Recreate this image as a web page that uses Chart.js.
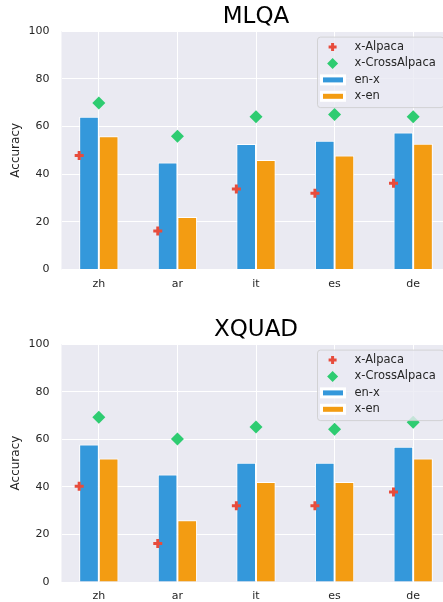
<!DOCTYPE html>
<html>
<head>
<meta charset="utf-8">
<title>MLQA / XQUAD</title>
<script src="https://cdn.jsdelivr.net/npm/chart.js@4.4.1/dist/chart.umd.min.js"></script>
<style>
    html, body { margin: 0; padding: 0; background: #fff; overflow: hidden; width: 443px; height: 602px; }
    canvas { position: absolute; left: 0; }
    #mlqa-chart { top: 0; }
    #xquad-chart { top: 300px; }
</style>
</head>
<body>
<!-- canvases are a bit wider than the window: the plot runs off the right edge like the original -->
<canvas id="mlqa-chart" width="458" height="300"></canvas>
<canvas id="xquad-chart" width="458" height="302"></canvas>
<script>
// Data
const languages = ["zh", "ar", "it", "es", "de"];
const yTicks = [0, 20, 40, 60, 80, 100];

const mlqaEnX = [64.1, 44.9, 52.6, 54.0, 57.5];
const mlqaXEn = [55.9, 22.0, 45.9, 47.8, 52.7];
const mlqaXAlpaca = [47.8, 16.2, 33.8, 32.0, 36.2];
const mlqaXCrossAlpaca = [69.8, 55.9, 64.1, 65.0, 64.1];

const xquadEnX = [57.8, 45.2, 50.1, 50.1, 56.9];
const xquadXEn = [51.9, 26.0, 42.0, 42.0, 51.9];
const xquadXAlpaca = [40.3, 16.2, 32.0, 32.0, 37.8];
const xquadXCrossAlpaca = [69.2, 60.1, 65.2, 64.2, 67.1];

// Styles
const FONT = "'DejaVu Sans', 'Liberation Sans', sans-serif";
const TEXT_COLOR = "#262626";
const BLUE = "#3498db";
const ORANGE = "#f39c12";
const RED = "#e74c3c";
const GREEN = "#2ecc71";

// seaborn-like grey plot background
const plotBackground = {
    id: "plotBackground",
    beforeDraw(chart) {
        const { ctx, chartArea } = chart;
        ctx.save();
        ctx.fillStyle = "#eaeaf2";
        ctx.fillRect(chartArea.left, chartArea.top, chartArea.right - chartArea.left, chartArea.bottom - chartArea.top);
        ctx.restore();
    },
};

function drawPlus(ctx, x, y, r, color) {
    ctx.strokeStyle = color;
    ctx.lineWidth = 3;
    ctx.beginPath();
    ctx.moveTo(x - r, y);
    ctx.lineTo(x + r, y);
    ctx.moveTo(x, y - r);
    ctx.lineTo(x, y + r);
    ctx.stroke();
}

function drawDiamond(ctx, x, y, r, color) {
    ctx.fillStyle = color;
    ctx.beginPath();
    ctx.moveTo(x - r, y);
    ctx.lineTo(x, y - r);
    ctx.lineTo(x + r, y);
    ctx.lineTo(x, y + r);
    ctx.closePath();
    ctx.fill();
}

// matplotlib style legend box in the upper right of the plot
const boxLegend = {
    id: "boxLegend",
    afterDraw(chart) {
        const { ctx, chartArea } = chart;
        const width = 126.5, height = 70.5;
        const left = chartArea.right - 7 - width;
        const top = chartArea.top + 5.5;
        ctx.save();
        ctx.beginPath();
        ctx.roundRect(left + 0.5, top + 0.5, width, height, 3);
        ctx.fillStyle = "rgba(234, 234, 242, 0.8)";
        ctx.fill();
        ctx.strokeStyle = "rgba(204, 204, 204, 0.8)";
        ctx.lineWidth = 1;
        ctx.stroke();

        ctx.font = "11.5px " + FONT;
        ctx.fillStyle = TEXT_COLOR;
        ctx.textBaseline = "middle";
        chart.data.datasets.forEach((ds, i) => {
            const y = top + 10.5 + i * 16.4;
            const mx = left + 15.6;
            if (ds.pointStyle === "cross") {
                drawPlus(ctx, mx, y, 4, ds.borderColor);
            } else if (ds.pointStyle === "rectRot") {
                drawDiamond(ctx, mx, y, 5.5, ds.backgroundColor);
            } else {
                ctx.fillStyle = ds.backgroundColor;
                ctx.fillRect(left + 4.5, y - 4, 23, 8);
                ctx.strokeStyle = "#fff";
                ctx.strokeRect(left + 4.5, y - 4, 23, 8);
            }
            ctx.fillStyle = TEXT_COLOR;
            ctx.fillText(ds.label, left + 37.5, y);
        });
        ctx.restore();
    },
};

function makeChart(canvasId, title, enX, xEn, xAlpaca, xCross, topPad, xAxisHeight) {
    const ctx = document.getElementById(canvasId).getContext("2d");
    return new Chart(ctx, {
        type: "bar",
        data: {
            datasets: [
                {
                    type: "scatter",
                    label: "x-Alpaca",
                    data: xAlpaca.map((v, i) => ({ x: i - 0.25, y: v })),
                    pointStyle: "cross",
                    pointRadius: 4.5,
                    borderColor: RED,
                    backgroundColor: RED,
                    borderWidth: 3,
                    order: 0,
                },
                {
                    type: "scatter",
                    label: "x-CrossAlpaca",
                    data: xCross.map((v, i) => ({ x: i, y: v })),
                    pointStyle: "rectRot",
                    pointRadius: 6.5,
                    backgroundColor: GREEN,
                    borderColor: GREEN,
                    borderWidth: 0,
                    order: 0,
                },
                {
                    label: "en-x",
                    data: enX.map((v, i) => ({ x: i, y: v })),
                    backgroundColor: BLUE,
                    borderColor: "#fff",
                    borderWidth: 1,
                    categoryPercentage: 0.5,
                    barPercentage: 1,
                    order: 1,
                },
                {
                    label: "x-en",
                    data: xEn.map((v, i) => ({ x: i, y: v })),
                    backgroundColor: ORANGE,
                    borderColor: "#fff",
                    borderWidth: 1,
                    categoryPercentage: 0.5,
                    barPercentage: 1,
                    order: 1,
                },
            ],
        },
        options: {
            responsive: false,
            animation: false,
            layout: { padding: { left: 5, right: 0, top: topPad, bottom: 0 } },
            plugins: {
                legend: { display: false },
                tooltip: { enabled: false },
                title: {
                    display: true,
                    text: title,
                    fullSize: false,
                    color: "#000",
                    font: { family: FONT, size: 23, weight: "normal" },
                    padding: { top: 3.5, bottom: 0 },
                },
            },
            scales: {
                x: {
                    type: "linear",
                    min: -0.475,
                    max: 4.475,
                    offset: false,
                    afterBuildTicks: (scale) => {
                        scale.ticks = languages.map((lang, i) => ({ value: i }));
                    },
                    afterFit: (scale) => { scale.height = xAxisHeight; },
                    ticks: {
                        callback: (value) => languages[value],
                        color: TEXT_COLOR,
                        font: { family: FONT, size: 11 },
                        padding: 8,
                        maxRotation: 0,
                    },
                    grid: { color: "#fff", lineWidth: 1, drawTicks: false, offset: false },
                    border: { display: false },
                },
                y: {
                    min: 0,
                    max: 100,
                    afterBuildTicks: (scale) => {
                        scale.ticks = yTicks.map((v) => ({ value: v }));
                    },
                    afterFit: (scale) => { scale.width = 56.5; },
                    ticks: {
                        color: TEXT_COLOR,
                        font: { family: FONT, size: 11 },
                        padding: 12,
                    },
                    grid: { color: "#fff", lineWidth: 1, drawTicks: false },
                    border: { display: false },
                    title: {
                        display: true,
                        text: "Accuracy",
                        color: TEXT_COLOR,
                        font: { family: FONT, size: 12 },
                        padding: { top: 4, bottom: 0 },
                    },
                },
            },
        },
        plugins: [plotBackground, boxLegend],
    });
}

makeChart("mlqa-chart", "MLQA", mlqaEnX, mlqaXEn, mlqaXAlpaca, mlqaXCrossAlpaca, 0, 30.5);
makeChart("xquad-chart", "XQUAD", xquadEnX, xquadXEn, xquadXAlpaca, xquadXCrossAlpaca, 13, 20);
</script>
</body>
</html>
